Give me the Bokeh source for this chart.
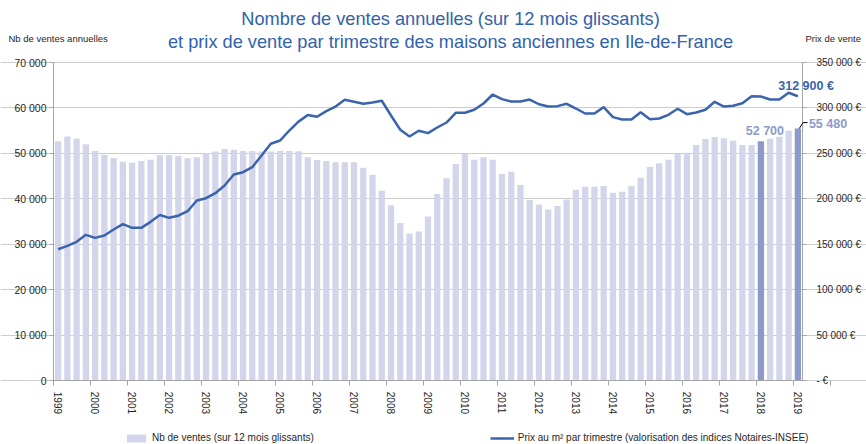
from bokeh.plotting import figure
from bokeh.models import (Range1d, LinearAxis, FixedTicker, Label, Legend, LegendItem,
                          Arrow, ColumnDataSource)
from bokeh.embed import file_html
from bokeh.resources import INLINE

# ---------------- data ----------------
annees = ["1999", "2000", "2001", "2002", "2003", "2004", "2005", "2006", "2007", "2008",
          "2009", "2010", "2011", "2012", "2013", "2014", "2015", "2016", "2017", "2018", "2019"]

# Nb de ventes (sur 12 mois glissants), quarterly 1999 T1 -> 2019 T1
ventes = [
    52700, 53700, 53250, 52000,   # 1999
    50550, 49740, 49000, 48200,   # 2000
    47980, 48350, 48640, 49670,   # 2001
    49670, 49520, 48930, 49150,   # 2002
    50030, 50400, 50980, 50830,   # 2003
    50550, 50550, 50400, 50400,   # 2004
    50550, 50550, 50480, 49150,   # 2005
    48570, 48350, 48050, 48050,   # 2006
    48050, 46880, 45340, 41820,   # 2007
    38600, 34720, 32370, 32810,   # 2008
    36150, 41100, 44530, 47690,   # 2009
    49890, 48640, 49150, 48640,   # 2010
    45490, 46000, 43070, 39780,   # 2011
    38750, 37650, 38460, 39850,   # 2012
    42040, 42700, 42700, 42850,   # 2013
    41380, 41600, 42850, 44680,   # 2014
    47030, 47830, 48640, 49850,   # 2015
    50170, 51870, 53190, 53630,   # 2016
    53320, 52810, 51870, 51870,   # 2017
    52700, 53250, 53690, 55000,   # 2018
    55480,                        # 2019
]

# Prix de vente (EUR), quarterly
prix = [
    144700, 148400, 152800, 160500,   # 1999
    157200, 159800, 166400, 172200,   # 2000
    168200, 168200, 174800, 182300,   # 2001
    179200, 181500, 186500, 198300,   # 2002
    200800, 206300, 214700, 226800,   # 2003
    229400, 234900, 247700, 260600,   # 2004
    264200, 275200, 285000, 292300,   # 2005
    290300, 296500, 301600, 309000,   # 2006
    306800, 304600, 306000, 307900,   # 2007
    291700, 276000, 268600, 274900,   # 2008
    272300, 278500, 284000, 294700,   # 2009
    294700, 298000, 304900, 314800,   # 2010
    309700, 307100, 307100, 309300,   # 2011
    304100, 301600, 302000, 304600,   # 2012
    299400, 293900, 293900, 300900,   # 2013
    289900, 287300, 287300, 295400,   # 2014
    287700, 288400, 292500, 299100,   # 2015
    293200, 295000, 298000, 306800,   # 2016
    301600, 302400, 305200, 312900,   # 2017
    312600, 309300, 309300, 316700,   # 2018
    312900,                           # 2019
]

highlight = [76, 80]  # 2018 T1 and 2019 T1

ventes_ticks = [0, 10000, 20000, 30000, 40000, 50000, 60000, 70000]
prix_ticks = [0, 50000, 100000, 150000, 200000, 250000, 300000, 350000]

# ---------------- style ----------------
BAR = "#D3D6EB"
BAR_HI = "#8C9ACB"
LINE = "#3A64AD"
TITLE = "#3162AC"
TXT = "#262626"
GRID = "#CDCDCD"
AXIS = "#A6A6A6"
FONT = "Liberation Sans"

n = len(ventes)
idx = list(range(n))
colors = [BAR_HI if i in highlight else BAR for i in idx]
src = ColumnDataSource(dict(x=idx, ventes=ventes, prix=prix, color=colors))

# canvas = frame; plot area (page px) inside it
W, H = 866, 444
FL, FR, FT, FB = 53.0, 802.0, 62.0, 380.3
CW = (FR - FL) / n                      # px per quarter
VPX = (FB - FT) / 70000.0               # px per sale
x0 = -0.5 - FL / CW
x1 = x0 + W / CW
y0 = -(H - FB) / VPX
y1 = FB / VPX
PR = 5.0                                 # price axis / sales axis ratio

p = figure(width=W, height=H, output_backend="svg", toolbar_location=None,
           x_range=Range1d(x0, x1), y_range=Range1d(y0, y1),
           x_axis_location=None, y_axis_location=None, min_border=0)
p.extra_y_ranges = {"prix": Range1d(y0 * PR, y1 * PR)}
p.outline_line_color = None
p.background_fill_color = "white"
p.border_fill_color = "white"


def px(xp):
    return x0 + xp / CW


def py(yp):
    return (FB - yp) / VPX


# grid
p.xgrid.visible = False
p.ygrid.ticker = FixedTicker(ticks=ventes_ticks)
p.ygrid.grid_line_color = GRID
p.ygrid.bounds = (-0.5, n - 0.5)

# glyphs
bars = p.vbar(x="x", top="ventes", width=0.68, fill_color="color", line_color=None, source=src)
line = p.line(x="x", y="prix", y_range_name="prix", line_color=LINE, line_width=2.5, source=src)

# x axis
xa = LinearAxis(fixed_location=0, bounds=(-0.5, n - 0.5),
                ticker=FixedTicker(ticks=[i * 4 for i in range(len(annees))],
                                   minor_ticks=[i * 4 - 0.5 for i in range(len(annees) + 1)]))
xa.major_label_overrides = {i * 4: a for i, a in enumerate(annees)}
xa.major_label_orientation = "vertical"
xa.major_tick_line_color = None
xa.major_tick_out = 0
xa.major_tick_in = 0
xa.minor_tick_line_color = AXIS
xa.minor_tick_out = 5
xa.minor_tick_in = 0
xa.axis_line_color = AXIS
xa.major_label_standoff = 6
xa.major_label_text_font = FONT
xa.major_label_text_font_size = "10px"
xa.major_label_text_color = TXT
p.add_layout(xa, "below")

# left axis
ya = LinearAxis(fixed_location=-0.5, bounds=(0, 70000), ticker=FixedTicker(ticks=ventes_ticks))
ya.major_label_overrides = {v: ("0" if v == 0 else f"{v:,}".replace(",", " ")) for v in ventes_ticks}
ya.axis_line_color = AXIS
ya.major_tick_line_color = AXIS
ya.major_tick_out = 4
ya.major_tick_in = 0
ya.minor_tick_line_color = None
ya.major_label_standoff = 3
ya.major_label_text_font = FONT
ya.major_label_text_font_size = "10.5px"
ya.major_label_text_color = TXT
p.add_layout(ya, "left")

# right axis
ra = LinearAxis(y_range_name="prix", fixed_location=n - 0.5, bounds=(0, 350000),
                ticker=FixedTicker(ticks=prix_ticks))
ra.major_label_overrides = {v: ("-   €" if v == 0 else f"{v:,}".replace(",", " ") + " €") for v in prix_ticks}
ra.axis_line_color = AXIS
ra.major_tick_line_color = AXIS
ra.major_tick_out = 4
ra.major_tick_in = 0
ra.minor_tick_line_color = None
ra.major_label_standoff = 10
ra.major_label_text_font = FONT
ra.major_label_text_font_size = "10px"
ra.major_label_text_color = TXT
p.add_layout(ra, "right")

# titles
for txt, yp in [("Nombre de ventes annuelles (sur 12 mois glissants)", 18),
                ("et prix de vente par trimestre des maisons anciennes en Ile-de-France", 41)]:
    p.add_layout(Label(x=px(450), y=py(yp), text=txt, text_align="center", text_baseline="middle",
                       text_font=FONT, text_font_size="18.2px", text_color=TITLE))

p.add_layout(Label(x=px(8), y=py(38), text="Nb de ventes annuelles", text_align="left",
                   text_baseline="middle", text_font=FONT, text_font_size="9.5px", text_color=TXT))
p.add_layout(Label(x=px(805), y=py(38), text="Prix de vente", text_align="left",
                   text_baseline="middle", text_font=FONT, text_font_size="9.5px", text_color=TXT))

# value annotations
last = n - 1
p.add_layout(Label(x=last, y=prix[last], y_range_name="prix", text=f"{prix[last]:,}".replace(",", " ") + " €",
                   text_align="right", text_baseline="bottom", x_offset=36, y_offset=3,
                   text_font=FONT, text_font_size="12.5px", text_font_style="bold", text_color=LINE))
p.add_layout(Label(x=highlight[0], y=ventes[highlight[0]], text=f"{ventes[highlight[0]]:,}".replace(",", " "),
                   text_align="center", text_baseline="bottom", x_offset=4, y_offset=3,
                   text_font=FONT, text_font_size="12.5px", text_font_style="bold", text_color=BAR_HI))
p.add_layout(Label(x=last, y=ventes[last], text=f"{ventes[last]:,}".replace(",", " "),
                   text_align="left", text_baseline="middle", x_offset=11, y_offset=5,
                   text_font=FONT, text_font_size="12.5px", text_font_style="bold", text_color=BAR_HI))
# leader line for the last bar label
lx0, ly0 = last + 0.15, ventes[last]
p.add_layout(Arrow(end=None, x_start=lx0, y_start=ly0, x_end=lx0 + 0.4, y_end=ly0 + 1300,
                   line_color="black", line_width=1))
p.add_layout(Arrow(end=None, x_start=lx0 + 0.4, y_start=ly0 + 1300, x_end=lx0 + 0.9, y_end=ly0 + 1300,
                   line_color="black", line_width=1))

# legend below the chart
legend = Legend(items=[LegendItem(label="Nb de ventes (sur 12 mois glissants)", renderers=[bars]),
                       LegendItem(label="Prix au m² par trimestre (valorisation des indices Notaires-INSEE)",
                                  renderers=[line])],
                orientation="horizontal", location=(124, 1), spacing=176,
                glyph_width=24, glyph_height=10, label_standoff=4, padding=0, margin=0,
                border_line_color=None, background_fill_alpha=0,
                label_text_font=FONT, label_text_font_size="10px",
                label_text_color=TXT)
p.add_layout(legend, "center")

open("out.html", "w").write(file_html(p, INLINE))
